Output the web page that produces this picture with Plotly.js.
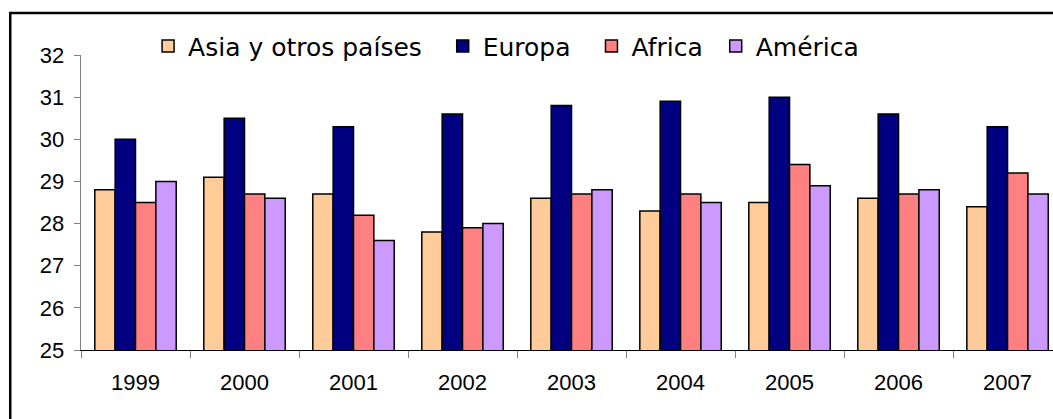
<!DOCTYPE html>
<html>
<head>
<meta charset="utf-8">
<script src="https://cdn.plot.ly/plotly-3.0.1.min.js"></script>
<style>
  html, body { margin: 0; padding: 0; background: #fff; }
  #chart { width: 1053px; height: 419px; }
</style>
</head>
<body>
<div id="chart"></div>
<script>
var years = ['1999', '2000', '2001', '2002', '2003', '2004', '2005', '2006', '2007'];

var asia    = [28.8, 29.1, 28.7, 27.8, 28.6, 28.3, 28.5, 28.6, 28.4];
var europa  = [30.0, 30.5, 30.3, 30.6, 30.8, 30.9, 31.0, 30.6, 30.3];
var africa  = [28.5, 28.7, 28.2, 27.9, 28.7, 28.7, 29.4, 28.7, 29.2];
var america = [29.0, 28.6, 27.6, 28.0, 28.8, 28.5, 28.9, 28.8, 28.7];

var yTicks = [25, 26, 27, 28, 29, 30, 31, 32];

// non-breaking spaces pad the legend entries to the original spacing
var pad = '\u00a0';

function barTrace(vals, name, color) {
  return {
    x: years,
    y: vals,
    base: 0,
    type: 'bar',
    name: name,
    marker: {color: color, line: {color: '#000000', width: 1.5}},
    hoverinfo: 'x+y+name'
  };
}

var trace1 = barTrace(asia, 'Asia y otros países' + pad + pad, '#FFCC99');
var trace2 = barTrace(europa, 'Europa' + pad + pad, '#000080');
var trace3 = barTrace(africa, 'Africa' + pad, '#FF8080');
var trace4 = barTrace(america, 'América', '#CC99FF');

var layout = {
  width: 1053,
  height: 419,
  margin: {l: 81, r: 0, t: 55, b: 69},
  paper_bgcolor: '#ffffff',
  plot_bgcolor: '#ffffff',
  barmode: 'group',
  bargap: 0.253,
  bargroupgap: 0,
  showlegend: true,
  legend: {
    orientation: 'h',
    x: 0.069,
    xanchor: 'left',
    y: 1.03,
    yanchor: 'middle',
    font: {family: 'DejaVu Sans', size: 25, color: '#000000'},
    bgcolor: 'rgba(0,0,0,0)',
    itemwidth: 30,
    traceorder: 'normal'
  },
  xaxis: {
    type: 'category',
    range: [-0.5, 8.417],
    tickson: 'boundaries',
    ticks: 'outside',
    ticklen: 7,
    tickcolor: '#808080',
    showline: true,
    linecolor: '#000000',
    linewidth: 1.3,
    showgrid: false,
    zeroline: false,
    tickfont: {family: 'Liberation Sans', size: 22, color: '#000000'},
    ticklabelstandoff: 12
  },
  yaxis: {
    range: [25, 32],
    tickvals: yTicks,
    ticks: 'outside',
    ticklen: 6,
    tickcolor: '#808080',
    showline: true,
    linecolor: '#808080',
    linewidth: 1.3,
    showgrid: false,
    zeroline: false,
    tickfont: {family: 'Liberation Sans', size: 22, color: '#000000'},
    ticklabelstandoff: 5
  },
  shapes: [{
    type: 'rect',
    xref: 'paper', yref: 'paper',
    x0: -0.0728, x1: 1.2,
    y0: -0.5, y1: 1.1425,
    line: {color: '#000000', width: 2.5},
    fillcolor: 'rgba(0,0,0,0)',
    layer: 'above'
  }]
};

Plotly.newPlot('chart', [trace1, trace2, trace3, trace4], layout, {displayModeBar: false, staticPlot: true});
</script>
</body>
</html>
